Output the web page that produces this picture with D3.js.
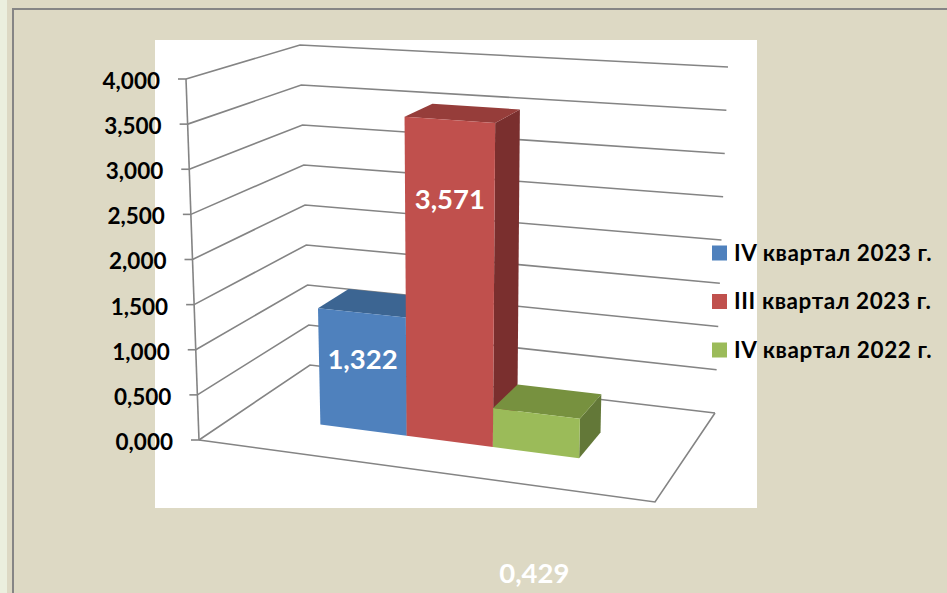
<!DOCTYPE html>
<html>
<head>
<meta charset="utf-8">
<script src="https://cdn.jsdelivr.net/npm/d3@7"></script>
<style>
  body { margin: 0; background: #DDD9C4; }
  svg { display: block; font-family: Lato, "Open Sans", sans-serif; }
</style>
</head>
<body>
<svg width="947" height="593"></svg>
<script>
// data
const seriesNames = ["IV квартал 2023 г.", "III квартал 2023 г.", "IV квартал 2022 г."];
const seriesValues = [1.322, 3.571, 0.429];
const tickValues = [0, 0.5, 1, 1.5, 2, 2.5, 3, 3.5, 4];
const tickLabels = ["0,000", "0,500", "1,000", "1,500", "2,000", "2,500", "3,000", "3,500", "4,000"];

// colours per series: front, top, side
const palette = [
  ["#4F81BD", "#3C6592", "#34567c"],
  ["#C0504D", "#963D3A", "#7A2F2E"],
  ["#9BBB59", "#77913F", "#637838"]
];
// where excel put the value labels (in value units)
const labelAt = [0.80, 2.69, -1.32];

const svg = d3.select("svg"),
      width = +svg.attr("width"),
      height = +svg.attr("height");

// frame
svg.append("rect").attr("width", width).attr("height", height).attr("fill", "#DDD9C4");
svg.append("rect").attr("width", 7).attr("height", height).attr("fill", "#EBEFDE");
svg.append("path")
    .attr("d", `M13,${height} V9 H${width}`)
    .attr("fill", "none")
    .attr("stroke", "#858585")
    .attr("stroke-width", 2);
svg.append("rect")
    .attr("x", 155).attr("y", 40)
    .attr("width", 602).attr("height", 468)
    .attr("fill", "#fff");

// 3d box corners on screen: bottom (value 0) and top (value max)
const box = {
  bottom: { FL: [199, 440], FR: [655, 502], BL: [310, 365], BR: [715, 413] },
  top:    { FL: [186, 79],  FR: [668, 112], BL: [300, 45],  BR: [728, 67] }
};
const lerp = (a, b, t) => [a[0] + (b[0] - a[0]) * t, a[1] + (b[1] - a[1]) * t];
const plane = (c, u, z) => lerp(lerp(c.FL, c.FR, u), lerp(c.BL, c.BR, u), z);
const proj = (u, z, h) => lerp(plane(box.bottom, u, z), plane(box.top, u, z), h);

const y = d3.scaleLinear().domain([0, 4]).range([0, 1]);
const x = d3.scaleBand()
    .domain(seriesNames)
    .range([0, 1])
    .paddingInner(0)
    .paddingOuter(1.04)
    .align(0.46);
const zFront = 0.35, zBack = 0.65;

const line = d3.line();
const g = svg.append("g")
    .attr("fill", "none")
    .attr("stroke", "#848484")
    .attr("stroke-width", 1.6);

// gridlines on side wall + back wall
g.selectAll(".grid")
    .data(tickValues)
    .join("path")
    .attr("class", "grid")
    .attr("d", d => line([proj(0, 0, y(d)), proj(0, 1, y(d)), proj(1, 1, y(d))]));

// floor front + right edge
g.append("path")
    .attr("d", line([proj(0, 0, 0), proj(1, 0, 0), proj(1, 1, 0)]));

// value axis
g.append("path")
    .attr("d", line([proj(0, 0, 0), proj(0, 0, 1)]));

g.selectAll(".tick")
    .data(tickValues)
    .join("path")
    .attr("class", "tick")
    .attr("d", d => {
      const p = proj(0, 0, y(d));
      return line([[p[0] - 8, p[1]], p]);
    });

svg.selectAll(".ylabel")
    .data(tickValues)
    .join("text")
    .attr("class", "ylabel")
    .attr("x", d => proj(0, 0, y(d))[0] - 26)
    .attr("y", d => proj(0, 0, y(d))[1] + 2)
    .attr("dy", "0.35em")
    .attr("text-anchor", "end")
    .attr("font-size", 22.5)
    .attr("font-weight", 700)
    .attr("fill", "#000")
    .text((d, i) => tickLabels[i]);

// bars, left to right
const bars = seriesNames.map((name, i) => ({ name, value: seriesValues[i], i }));

const barG = svg.selectAll(".bar")
    .data(bars)
    .join("g")
    .attr("class", "bar");

barG.append("path")
    .attr("d", d => {
      const u1 = x(d.name) + x.bandwidth(), h = y(d.value);
      return line([proj(u1, zFront, 0), proj(u1, zBack, 0), proj(u1, zBack, h), proj(u1, zFront, h)]) + "Z";
    })
    .attr("fill", d => palette[d.i][2]);

barG.append("path")
    .attr("d", d => {
      const u0 = x(d.name), u1 = u0 + x.bandwidth(), h = y(d.value);
      return line([proj(u0, zFront, h), proj(u1, zFront, h), proj(u1, zBack, h), proj(u0, zBack, h)]) + "Z";
    })
    .attr("fill", d => palette[d.i][1]);

barG.append("path")
    .attr("d", d => {
      const u0 = x(d.name), u1 = u0 + x.bandwidth(), h = y(d.value);
      return line([proj(u0, zFront, 0), proj(u1, zFront, 0), proj(u1, zFront, h), proj(u0, zFront, h)]) + "Z";
    })
    .attr("fill", d => palette[d.i][0]);

// value labels
const fmt = d3.format(".3f");
svg.selectAll(".vlabel")
    .data(bars)
    .join("text")
    .attr("class", "vlabel")
    .attr("x", d => proj(x(d.name) + x.bandwidth() / 2, zFront, y(labelAt[d.i]))[0])
    .attr("y", d => proj(x(d.name) + x.bandwidth() / 2, zFront, y(labelAt[d.i]))[1])
    .attr("dy", "0.35em")
    .attr("text-anchor", "middle")
    .attr("font-size", 27.5)
    .attr("font-weight", 700)
    .attr("fill", "#fff")
    .text(d => fmt(d.value).replace(".", ","));

// legend
const legend = svg.selectAll(".legend")
    .data(seriesNames)
    .join("g")
    .attr("class", "legend")
    .attr("transform", (d, i) => `translate(712,${253 + i * 48.5})`);

legend.append("rect")
    .attr("y", -7.5)
    .attr("width", 15)
    .attr("height", 15)
    .attr("fill", (d, i) => palette[i][0]);

legend.append("text")
    .attr("x", 22)
    .attr("dy", "0.35em")
    .attr("font-size", 22.5)
    .attr("font-weight", 700)
    .attr("letter-spacing", 0.6)
    .attr("fill", "#000")
    .text(d => d);
</script>
</body>
</html>
